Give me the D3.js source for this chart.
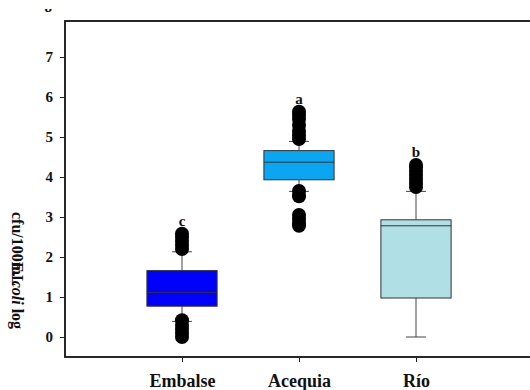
<!DOCTYPE html>
<html>
<head>
<meta charset="utf-8">
<script src="https://cdn.jsdelivr.net/npm/d3@7"></script>
<style>
  html, body { margin: 0; padding: 0; background: #fff; }
  svg { display: block; }
  text { font-family: "Liberation Serif", "Times New Roman", serif; }
</style>
</head>
<body>
<svg id="chart" width="530" height="390"></svg>
<script>
// Sites and their box-plot summaries (log cfu/100mL)
const categories = ["Embalse", "Acequia", "Río"];
const q1 = [0.77, 3.93, 0.975];
const median = [1.11, 4.37, 2.78];
const q3 = [1.66, 4.66, 2.93];
const whiskerLow = [0.39, 3.64, 0.0];
const whiskerHigh = [2.13, 4.89, 3.64];
const outliers = [
  [0.0, 0.1, 0.2, 0.3, 0.42, 2.2, 2.3, 2.4, 2.5, 2.58],
  [2.78, 2.85, 2.95, 3.05, 3.52, 3.65, 4.95, 5.05, 5.15, 5.3, 5.45, 5.55, 5.63],
  [3.75, 3.85, 3.95, 4.05, 4.15, 4.25, 4.3]
];
const groupLetters = ["c", "a", "b"];
const boxColors = ["#0000ff", "#0aa6f2", "#b0e0e6"];
const yTicks = [0, 1, 2, 3, 4, 5, 6, 7];

const svg = d3.select("#chart");
const plotLeft = 65, plotTop = 21, plotBottom = 357, plotRight = 533;

const x = d3.scaleLinear().domain([0, 4]).range([plotLeft, plotRight]);
const y = d3.scaleLinear().domain([-0.5, 7.9]).range([plotBottom, plotTop]);
const halfBox = 0.3, halfCap = 0.085;

// frame
svg.append("rect")
  .attr("x", plotLeft).attr("y", plotTop)
  .attr("width", plotRight - plotLeft).attr("height", plotBottom - plotTop)
  .attr("fill", "none").attr("stroke", "#111").attr("stroke-width", 1.8);

// y axis ticks and labels
const yAxis = svg.append("g").attr("transform", `translate(${plotLeft},0)`)
  .call(d3.axisLeft(y).tickValues(yTicks).tickSize(5).tickPadding(7).tickFormat(d3.format("d")));
yAxis.select(".domain").remove();
yAxis.selectAll("line").attr("stroke", "#222");
yAxis.selectAll("text")
  .attr("font-family", "Liberation Serif, Times New Roman, serif")
  .attr("font-size", 15).attr("font-weight", "bold").attr("fill", "#111");

// label of the next tick, cut off at the top edge
svg.append("clipPath").attr("id", "topcut")
  .append("rect").attr("x", 0).attr("y", 9).attr("width", 65).attr("height", 20);
svg.append("text")
  .attr("clip-path", "url(#topcut)")
  .attr("x", 52).attr("y", 12).attr("text-anchor", "end")
  .attr("font-size", 15).attr("font-weight", "bold").attr("fill", "#111")
  .text("8");

// x axis ticks and labels
const xAxis = svg.append("g").attr("transform", `translate(0,${plotBottom})`)
  .call(d3.axisBottom(x).tickValues([1, 2, 3]).tickSize(5).tickPadding(12)
    .tickFormat(d => categories[d - 1]));
xAxis.select(".domain").remove();
xAxis.selectAll("line").attr("stroke", "#222");
xAxis.selectAll("text")
  .attr("font-family", "Liberation Serif, Times New Roman, serif")
  .attr("font-size", 18).attr("font-weight", "bold").attr("fill", "#111");

// y axis title (overlapping runs)
const title = svg.append("g").attr("transform", "translate(12,212) rotate(90)");
title.append("text")
  .attr("x", 0).attr("y", 0)
  .attr("font-size", 16).attr("font-weight", "bold").attr("fill", "#111")
  .text("cfu/100mL");
const t2 = title.append("text")
  .attr("x", 50).attr("y", 0)
  .attr("font-size", 16).attr("font-weight", "bold").attr("fill", "#111");
t2.append("tspan").text("E. ");
t2.append("tspan").attr("font-style", "italic").text("coli");
t2.append("tspan").text(" log");

// box plots
categories.forEach((c, i) => {
  const cx = x(i + 1);
  const g = svg.append("g");
  // whiskers
  g.append("line").attr("x1", cx).attr("x2", cx)
    .attr("y1", y(q3[i])).attr("y2", y(whiskerHigh[i]))
    .attr("stroke", "#444").attr("stroke-width", 1);
  g.append("line").attr("x1", cx).attr("x2", cx)
    .attr("y1", y(q1[i])).attr("y2", y(whiskerLow[i]))
    .attr("stroke", "#444").attr("stroke-width", 1);
  [whiskerHigh[i], whiskerLow[i]].forEach(v => {
    g.append("line")
      .attr("x1", x(i + 1 - halfCap)).attr("x2", x(i + 1 + halfCap))
      .attr("y1", y(v)).attr("y2", y(v))
      .attr("stroke", "#444").attr("stroke-width", 1);
  });
  // box
  g.append("rect")
    .attr("x", x(i + 1 - halfBox)).attr("y", y(q3[i]))
    .attr("width", x(i + 1 + halfBox) - x(i + 1 - halfBox))
    .attr("height", y(q1[i]) - y(q3[i]))
    .attr("fill", boxColors[i]).attr("stroke", "#333").attr("stroke-width", 1);
  g.append("line")
    .attr("x1", x(i + 1 - halfBox)).attr("x2", x(i + 1 + halfBox))
    .attr("y1", y(median[i])).attr("y2", y(median[i]))
    .attr("stroke", "#333").attr("stroke-width", 1);
  // outliers
  g.selectAll("circle").data(outliers[i]).join("circle")
    .attr("cx", cx).attr("cy", d => y(d)).attr("r", 7)
    .attr("fill", "#000");
  // significance letter
  g.append("text")
    .attr("x", cx).attr("y", y(d3.max(outliers[i])) - 8)
    .attr("text-anchor", "middle")
    .attr("font-size", 15).attr("font-weight", "bold").attr("fill", "#111")
    .text(groupLetters[i]);
});
</script>
</body>
</html>
